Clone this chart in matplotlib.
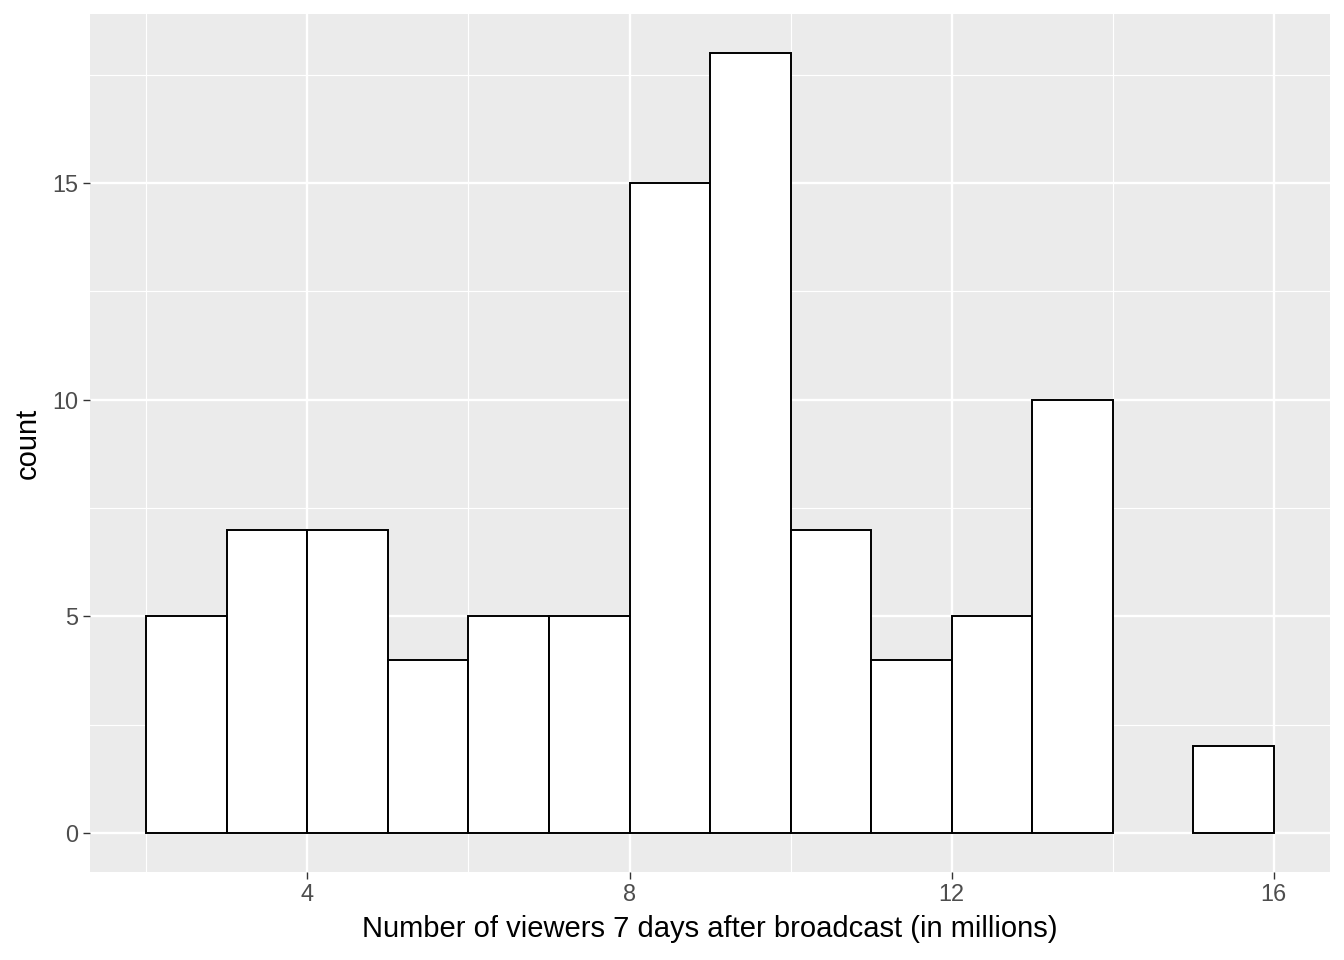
import numpy as np
import matplotlib.pyplot as plt
plt.rcParams['font.family'] = ['Liberation Sans', 'DejaVu Sans']

# histogram bins (width 1, from 2 to 16) and counts
bin_edges = [2, 3, 4, 5, 6, 7, 8, 9, 10, 11, 12, 13, 14, 15, 16]
counts = [5, 7, 7, 4, 5, 5, 15, 18, 7, 4, 5, 10, 0, 2]
x_ticks = [4, 8, 12, 16]
y_ticks = [0, 5, 10, 15]

fig = plt.figure(figsize=(13.44, 9.6), dpi=100)
ax = fig.add_axes([0.067, 0.0917, 0.9226, 0.8937])
ax.set_facecolor('#EBEBEB')

lefts = np.array(bin_edges[:-1])
widths = np.diff(bin_edges)
for l, w, c in zip(lefts, widths, counts):
    if c > 0:
        ax.bar(l, c, width=w, align='edge', color='white', edgecolor='black',
               linewidth=1.4, zorder=3)

ax.set_xlim(1.3, 16.7)
ax.set_ylim(-0.9, 18.9)
ax.set_xticks(x_ticks)
ax.set_yticks(y_ticks)
ax.set_xticks([2, 6, 10, 14], minor=True)
ax.set_yticks([2.5, 7.5, 12.5, 17.5], minor=True)
ax.grid(which='major', color='white', linewidth=1.7, zorder=1)
ax.grid(which='minor', color='white', linewidth=0.85, zorder=1)
ax.set_axisbelow(True)

for s in ax.spines.values():
    s.set_visible(False)
ax.tick_params(which='major', length=5.3, width=1.0, color='#333333',
               labelsize=16.9, labelcolor='#4D4D4D', pad=3)
ax.tick_params(which='minor', length=0)

ax.set_xlabel('Number of viewers 7 days after broadcast (in millions)', fontsize=21, color='black', labelpad=6)
ax.set_ylabel('count', fontsize=21, color='black', labelpad=8)

fig.savefig('out.png', dpi=100)
